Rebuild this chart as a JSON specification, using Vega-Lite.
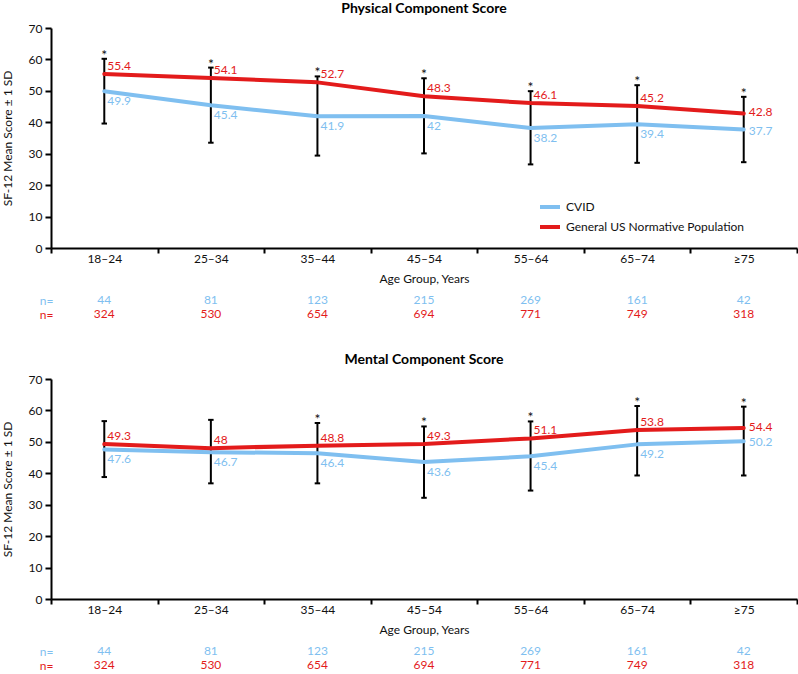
{
  "$schema": "https://vega.github.io/schema/vega-lite/v6.json",
  "padding": {"left": 1, "top": 2, "right": 0, "bottom": 0},
  "config": {
    "font": "Lato",
    "view": {"stroke": null},
    "title": {"fontSize": 14, "fontWeight": "bold", "font": "Lato", "color": "#000", "frame": "group", "anchor": "middle", "offset": 6},
    "axis": {"labelFont": "Lato", "titleFont": "Lato", "labelFontSize": 12, "titleFontSize": 12, "titleFontWeight": "normal", "labelColor": "#111", "titleColor": "#111", "domainColor": "#000", "tickColor": "#000", "domainWidth": 2, "tickWidth": 2, "grid": false},
    "axisY": {"values": [0, 10, 20, 30, 40, 50, 60, 70], "labelOverlap": false, "tickSize": 6, "labelPadding": 3, "titlePadding": 14, "title": "SF-12 Mean Score ± 1 SD"},
    "text": {"font": "Lato", "fontSize": 12}
  },
  "datasets": {
    "scores": [
      {"panel": "PCS", "age": "18–24", "series": "CVID", "mean": 49.9, "n": 44},
      {"panel": "PCS", "age": "25–34", "series": "CVID", "mean": 45.4, "n": 81},
      {"panel": "PCS", "age": "35–44", "series": "CVID", "mean": 41.9, "n": 123},
      {"panel": "PCS", "age": "45–54", "series": "CVID", "mean": 42, "n": 215},
      {"panel": "PCS", "age": "55–64", "series": "CVID", "mean": 38.2, "n": 269},
      {"panel": "PCS", "age": "65–74", "series": "CVID", "mean": 39.4, "n": 161},
      {"panel": "PCS", "age": "≥75", "series": "CVID", "mean": 37.7, "n": 42},
      {"panel": "PCS", "age": "18–24", "series": "General US Normative Population", "mean": 55.4, "n": 324},
      {"panel": "PCS", "age": "25–34", "series": "General US Normative Population", "mean": 54.1, "n": 530},
      {"panel": "PCS", "age": "35–44", "series": "General US Normative Population", "mean": 52.7, "n": 654},
      {"panel": "PCS", "age": "45–54", "series": "General US Normative Population", "mean": 48.3, "n": 694},
      {"panel": "PCS", "age": "55–64", "series": "General US Normative Population", "mean": 46.1, "n": 771},
      {"panel": "PCS", "age": "65–74", "series": "General US Normative Population", "mean": 45.2, "n": 749},
      {"panel": "PCS", "age": "≥75", "series": "General US Normative Population", "mean": 42.8, "n": 318},
      {"panel": "MCS", "age": "18–24", "series": "CVID", "mean": 47.6, "n": 44},
      {"panel": "MCS", "age": "25–34", "series": "CVID", "mean": 46.7, "n": 81},
      {"panel": "MCS", "age": "35–44", "series": "CVID", "mean": 46.4, "n": 123},
      {"panel": "MCS", "age": "45–54", "series": "CVID", "mean": 43.6, "n": 215},
      {"panel": "MCS", "age": "55–64", "series": "CVID", "mean": 45.4, "n": 269},
      {"panel": "MCS", "age": "65–74", "series": "CVID", "mean": 49.2, "n": 161},
      {"panel": "MCS", "age": "≥75", "series": "CVID", "mean": 50.2, "n": 42},
      {"panel": "MCS", "age": "18–24", "series": "General US Normative Population", "mean": 49.3, "n": 324},
      {"panel": "MCS", "age": "25–34", "series": "General US Normative Population", "mean": 48, "n": 530},
      {"panel": "MCS", "age": "35–44", "series": "General US Normative Population", "mean": 48.8, "n": 654},
      {"panel": "MCS", "age": "45–54", "series": "General US Normative Population", "mean": 49.3, "n": 694},
      {"panel": "MCS", "age": "55–64", "series": "General US Normative Population", "mean": 51.1, "n": 771},
      {"panel": "MCS", "age": "65–74", "series": "General US Normative Population", "mean": 53.8, "n": 749},
      {"panel": "MCS", "age": "≥75", "series": "General US Normative Population", "mean": 54.4, "n": 318}
    ],
    "errs": [
      {"panel": "PCS", "age": "18–24", "lo": 39.6, "hi": 60.2, "star": "*"},
      {"panel": "PCS", "age": "25–34", "lo": 33.5, "hi": 57.4, "star": "*"},
      {"panel": "PCS", "age": "35–44", "lo": 29.4, "hi": 54.6, "star": "*"},
      {"panel": "PCS", "age": "45–54", "lo": 30.1, "hi": 54.0, "star": "*"},
      {"panel": "PCS", "age": "55–64", "lo": 26.6, "hi": 49.9, "star": "*"},
      {"panel": "PCS", "age": "65–74", "lo": 27.1, "hi": 51.8, "star": "*"},
      {"panel": "PCS", "age": "≥75", "lo": 27.3, "hi": 48.1, "star": "*"},
      {"panel": "MCS", "age": "18–24", "lo": 38.8, "hi": 56.6, "star": ""},
      {"panel": "MCS", "age": "25–34", "lo": 36.8, "hi": 57.0, "star": ""},
      {"panel": "MCS", "age": "35–44", "lo": 36.8, "hi": 56.0, "star": "*"},
      {"panel": "MCS", "age": "45–54", "lo": 32.2, "hi": 54.9, "star": "*"},
      {"panel": "MCS", "age": "55–64", "lo": 34.5, "hi": 56.5, "star": "*"},
      {"panel": "MCS", "age": "65–74", "lo": 39.3, "hi": 61.4, "star": "*"},
      {"panel": "MCS", "age": "≥75", "lo": 39.3, "hi": 61.2, "star": "*"}
    ]
  },
  "spacing": 32,
  "vconcat": [
    {
      "spacing": 9,
      "vconcat": [
        {
          "title": "Physical Component Score",
          "width": 746,
          "height": 220,
          "encoding": {
            "x": {"field": "age", "type": "ordinal", "sort": null, "bandPosition": 0.5,
              "scale": {"type": "band", "domain": ["18–24", "25–34", "35–44", "45–54", "55–64", "65–74", "≥75"], "paddingInner": 0, "paddingOuter": 0},
              "axis": {"title": "Age Group, Years", "labelAngle": 0, "tickBand": "extent", "tickSize": 5, "labelPadding": 0, "titlePadding": 9}}
          },
          "layer": [
            {
              "data": {"name": "errs"},
              "transform": [{"filter": "datum.panel === 'PCS'"}],
              "mark": {"type": "rule", "color": "#000", "strokeWidth": 2},
              "encoding": {
                "y": {"field": "lo", "type": "quantitative", "scale": {"domain": [0, 70]}, "axis": {"title": "SF-12 Mean Score ± 1 SD", "values": [0, 10, 20, 30, 40, 50, 60, 70], "labelOverlap": false}},
                "y2": {"field": "hi"}
              }
            },
            {
              "data": {"name": "errs"},
              "transform": [{"filter": "datum.panel === 'PCS'"}],
              "mark": {"type": "point", "shape": "stroke", "size": 30, "color": "#000", "strokeWidth": 2, "opacity": 1},
              "encoding": {"y": {"field": "lo", "type": "quantitative", "axis": {"title": "SF-12 Mean Score ± 1 SD", "values": [0, 10, 20, 30, 40, 50, 60, 70], "labelOverlap": false}}}
            },
            {
              "data": {"name": "errs"},
              "transform": [{"filter": "datum.panel === 'PCS'"}],
              "mark": {"type": "point", "shape": "stroke", "size": 30, "color": "#000", "strokeWidth": 2, "opacity": 1},
              "encoding": {"y": {"field": "hi", "type": "quantitative", "axis": {"title": "SF-12 Mean Score ± 1 SD", "values": [0, 10, 20, 30, 40, 50, 60, 70], "labelOverlap": false}}}
            },
            {
              "data": {"name": "errs"},
              "transform": [{"filter": "datum.panel === 'PCS'"}],
              "mark": {"type": "text", "fontSize": 14, "baseline": "alphabetic", "align": "center", "color": "#111", "dy": 1},
              "encoding": {"y": {"field": "hi", "type": "quantitative", "axis": {"title": "SF-12 Mean Score ± 1 SD", "values": [0, 10, 20, 30, 40, 50, 60, 70], "labelOverlap": false}}, "text": {"field": "star"}}
            },
            {
              "data": {"name": "scores"},
              "transform": [{"filter": "datum.panel === 'PCS'"}],
              "mark": {"type": "line", "strokeWidth": 4, "strokeCap": "round", "strokeJoin": "round"},
              "encoding": {
                "y": {"field": "mean", "type": "quantitative", "axis": {"title": "SF-12 Mean Score ± 1 SD", "values": [0, 10, 20, 30, 40, 50, 60, 70], "labelOverlap": false}},
                "color": {"field": "series", "type": "nominal",
                  "scale": {"domain": ["CVID", "General US Normative Population"], "range": ["#7fbff0", "#e31b1b"]},
                  "legend": {"title": null, "orient": "none", "legendX": 487, "legendY": 167, "symbolType": "stroke", "symbolStrokeWidth": 4, "symbolSize": 400, "labelFontSize": 12, "labelFont": "Lato", "labelColor": "#111", "labelOffset": 4, "labelLimit": 0, "rowPadding": -8, "padding": 0}}
              }
            },
            {
              "data": {"name": "scores"},
              "transform": [{"filter": "datum.panel === 'PCS' && datum.age !== '≥75' && datum.series !== 'CVID'"}],
              "mark": {"type": "text", "align": "left", "baseline": "middle", "dx": 3, "dy": -8},
              "encoding": {"y": {"field": "mean", "type": "quantitative", "axis": {"title": "SF-12 Mean Score ± 1 SD", "values": [0, 10, 20, 30, 40, 50, 60, 70], "labelOverlap": false}}, "text": {"field": "mean", "type": "nominal"}, "color": {"field": "series", "type": "nominal", "legend": null}}
            },
            {
              "data": {"name": "scores"},
              "transform": [{"filter": "datum.panel === 'PCS' && datum.age !== '≥75' && datum.series === 'CVID'"}],
              "mark": {"type": "text", "align": "left", "baseline": "middle", "dx": 3, "dy": 10},
              "encoding": {"y": {"field": "mean", "type": "quantitative", "axis": {"title": "SF-12 Mean Score ± 1 SD", "values": [0, 10, 20, 30, 40, 50, 60, 70], "labelOverlap": false}}, "text": {"field": "mean", "type": "nominal"}, "color": {"field": "series", "type": "nominal", "legend": null}}
            },
            {
              "data": {"name": "scores"},
              "transform": [{"filter": "datum.panel === 'PCS' && datum.age === '≥75' && datum.series !== 'CVID'"}],
              "mark": {"type": "text", "align": "left", "baseline": "middle", "dx": 5, "dy": -1},
              "encoding": {"y": {"field": "mean", "type": "quantitative", "axis": {"title": "SF-12 Mean Score ± 1 SD", "values": [0, 10, 20, 30, 40, 50, 60, 70], "labelOverlap": false}}, "text": {"field": "mean", "type": "nominal"}, "color": {"field": "series", "type": "nominal", "legend": null}}
            },
            {
              "data": {"name": "scores"},
              "transform": [{"filter": "datum.panel === 'PCS' && datum.age === '≥75' && datum.series === 'CVID'"}],
              "mark": {"type": "text", "align": "left", "baseline": "middle", "dx": 5, "dy": 1},
              "encoding": {"y": {"field": "mean", "type": "quantitative", "axis": {"title": "SF-12 Mean Score ± 1 SD", "values": [0, 10, 20, 30, 40, 50, 60, 70], "labelOverlap": false}}, "text": {"field": "mean", "type": "nominal"}, "color": {"field": "series", "type": "nominal", "legend": null}}
            }
          ]
        },
        {
          "width": 746,
          "height": 28,
          "data": {"name": "scores"},
          "transform": [{"filter": "datum.panel === 'PCS'"}],
          "mark": {"type": "text", "fontSize": 12},
          "encoding": {
            "x": {"field": "age", "type": "ordinal", "sort": null, "bandPosition": 0.5, "scale": {"type": "band", "domain": ["18–24", "25–34", "35–44", "45–54", "55–64", "65–74", "≥75"], "paddingInner": 0, "paddingOuter": 0}, "axis": null},
            "y": {"field": "series", "type": "nominal", "scale": {"domain": ["CVID", "General US Normative Population"], "padding": 0.5},
              "axis": {"title": null, "values": ["CVID", "General US Normative Population"], "domain": false, "ticks": false, "tickSize": 0, "labelPadding": -2, "titlePadding": 0, "labelExpr": "'n='", "labelFontSize": 12,
                "labelColor": {"condition": {"test": "datum.value === 'CVID'", "value": "#7fbff0"}, "value": "#e31b1b"}}},
            "text": {"field": "n", "type": "nominal"},
            "color": {"field": "series", "type": "nominal", "scale": {"domain": ["CVID", "General US Normative Population"], "range": ["#7fbff0", "#e31b1b"]}, "legend": null}
          }
        }
      ]
    },
    {
      "spacing": 9,
      "vconcat": [
        {
          "title": "Mental Component Score",
          "width": 746,
          "height": 220,
          "encoding": {
            "x": {"field": "age", "type": "ordinal", "sort": null, "bandPosition": 0.5,
              "scale": {"type": "band", "domain": ["18–24", "25–34", "35–44", "45–54", "55–64", "65–74", "≥75"], "paddingInner": 0, "paddingOuter": 0},
              "axis": {"title": "Age Group, Years", "labelAngle": 0, "tickBand": "extent", "tickSize": 5, "labelPadding": 0, "titlePadding": 9}}
          },
          "layer": [
            {
              "data": {"name": "errs"},
              "transform": [{"filter": "datum.panel === 'MCS'"}],
              "mark": {"type": "rule", "color": "#000", "strokeWidth": 2},
              "encoding": {
                "y": {"field": "lo", "type": "quantitative", "scale": {"domain": [0, 70]}, "axis": {"title": "SF-12 Mean Score ± 1 SD", "values": [0, 10, 20, 30, 40, 50, 60, 70], "labelOverlap": false}},
                "y2": {"field": "hi"}
              }
            },
            {
              "data": {"name": "errs"},
              "transform": [{"filter": "datum.panel === 'MCS'"}],
              "mark": {"type": "point", "shape": "stroke", "size": 30, "color": "#000", "strokeWidth": 2, "opacity": 1},
              "encoding": {"y": {"field": "lo", "type": "quantitative", "axis": {"title": "SF-12 Mean Score ± 1 SD", "values": [0, 10, 20, 30, 40, 50, 60, 70], "labelOverlap": false}}}
            },
            {
              "data": {"name": "errs"},
              "transform": [{"filter": "datum.panel === 'MCS'"}],
              "mark": {"type": "point", "shape": "stroke", "size": 30, "color": "#000", "strokeWidth": 2, "opacity": 1},
              "encoding": {"y": {"field": "hi", "type": "quantitative", "axis": {"title": "SF-12 Mean Score ± 1 SD", "values": [0, 10, 20, 30, 40, 50, 60, 70], "labelOverlap": false}}}
            },
            {
              "data": {"name": "errs"},
              "transform": [{"filter": "datum.panel === 'MCS'"}],
              "mark": {"type": "text", "fontSize": 14, "baseline": "alphabetic", "align": "center", "color": "#111", "dy": 1},
              "encoding": {"y": {"field": "hi", "type": "quantitative", "axis": {"title": "SF-12 Mean Score ± 1 SD", "values": [0, 10, 20, 30, 40, 50, 60, 70], "labelOverlap": false}}, "text": {"field": "star"}}
            },
            {
              "data": {"name": "scores"},
              "transform": [{"filter": "datum.panel === 'MCS'"}],
              "mark": {"type": "line", "strokeWidth": 4, "strokeCap": "round", "strokeJoin": "round"},
              "encoding": {
                "y": {"field": "mean", "type": "quantitative", "axis": {"title": "SF-12 Mean Score ± 1 SD", "values": [0, 10, 20, 30, 40, 50, 60, 70], "labelOverlap": false}},
                "color": {"field": "series", "type": "nominal",
                  "scale": {"domain": ["CVID", "General US Normative Population"], "range": ["#7fbff0", "#e31b1b"]},
                  "legend": {"title": null, "orient": "none", "legendX": 487, "legendY": 167, "symbolType": "stroke", "symbolStrokeWidth": 4, "symbolSize": 400, "labelFontSize": 12, "labelFont": "Lato", "labelColor": "#111", "labelOffset": 4, "labelLimit": 0, "rowPadding": -8, "padding": 0}}
              }
            },
            {
              "data": {"name": "scores"},
              "transform": [{"filter": "datum.panel === 'MCS' && datum.age !== '≥75' && datum.series !== 'CVID'"}],
              "mark": {"type": "text", "align": "left", "baseline": "middle", "dx": 3, "dy": -8},
              "encoding": {"y": {"field": "mean", "type": "quantitative", "axis": {"title": "SF-12 Mean Score ± 1 SD", "values": [0, 10, 20, 30, 40, 50, 60, 70], "labelOverlap": false}}, "text": {"field": "mean", "type": "nominal"}, "color": {"field": "series", "type": "nominal", "legend": null}}
            },
            {
              "data": {"name": "scores"},
              "transform": [{"filter": "datum.panel === 'MCS' && datum.age !== '≥75' && datum.series === 'CVID'"}],
              "mark": {"type": "text", "align": "left", "baseline": "middle", "dx": 3, "dy": 10},
              "encoding": {"y": {"field": "mean", "type": "quantitative", "axis": {"title": "SF-12 Mean Score ± 1 SD", "values": [0, 10, 20, 30, 40, 50, 60, 70], "labelOverlap": false}}, "text": {"field": "mean", "type": "nominal"}, "color": {"field": "series", "type": "nominal", "legend": null}}
            },
            {
              "data": {"name": "scores"},
              "transform": [{"filter": "datum.panel === 'MCS' && datum.age === '≥75' && datum.series !== 'CVID'"}],
              "mark": {"type": "text", "align": "left", "baseline": "middle", "dx": 5, "dy": -1},
              "encoding": {"y": {"field": "mean", "type": "quantitative", "axis": {"title": "SF-12 Mean Score ± 1 SD", "values": [0, 10, 20, 30, 40, 50, 60, 70], "labelOverlap": false}}, "text": {"field": "mean", "type": "nominal"}, "color": {"field": "series", "type": "nominal", "legend": null}}
            },
            {
              "data": {"name": "scores"},
              "transform": [{"filter": "datum.panel === 'MCS' && datum.age === '≥75' && datum.series === 'CVID'"}],
              "mark": {"type": "text", "align": "left", "baseline": "middle", "dx": 5, "dy": 1},
              "encoding": {"y": {"field": "mean", "type": "quantitative", "axis": {"title": "SF-12 Mean Score ± 1 SD", "values": [0, 10, 20, 30, 40, 50, 60, 70], "labelOverlap": false}}, "text": {"field": "mean", "type": "nominal"}, "color": {"field": "series", "type": "nominal", "legend": null}}
            }
          ]
        },
        {
          "width": 746,
          "height": 28,
          "data": {"name": "scores"},
          "transform": [{"filter": "datum.panel === 'MCS'"}],
          "mark": {"type": "text", "fontSize": 12},
          "encoding": {
            "x": {"field": "age", "type": "ordinal", "sort": null, "bandPosition": 0.5, "scale": {"type": "band", "domain": ["18–24", "25–34", "35–44", "45–54", "55–64", "65–74", "≥75"], "paddingInner": 0, "paddingOuter": 0}, "axis": null},
            "y": {"field": "series", "type": "nominal", "scale": {"domain": ["CVID", "General US Normative Population"], "padding": 0.5},
              "axis": {"title": null, "values": ["CVID", "General US Normative Population"], "domain": false, "ticks": false, "tickSize": 0, "labelPadding": -2, "titlePadding": 0, "labelExpr": "'n='", "labelFontSize": 12,
                "labelColor": {"condition": {"test": "datum.value === 'CVID'", "value": "#7fbff0"}, "value": "#e31b1b"}}},
            "text": {"field": "n", "type": "nominal"},
            "color": {"field": "series", "type": "nominal", "scale": {"domain": ["CVID", "General US Normative Population"], "range": ["#7fbff0", "#e31b1b"]}, "legend": null}
          }
        }
      ]
    }
  ]
}
